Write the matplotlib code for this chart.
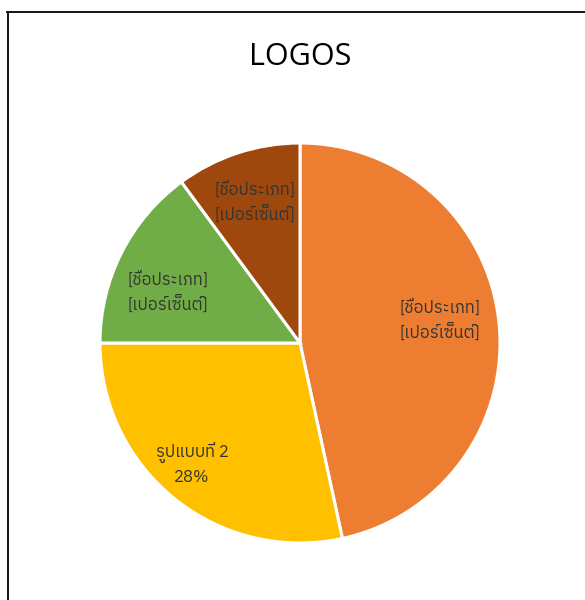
import matplotlib
matplotlib.use("Agg")
import matplotlib.pyplot as plt
from matplotlib import font_manager
from matplotlib.ft2font import FT2Font
from matplotlib.lines import Line2D
import numpy as np

# ---- data ----
categories = ["[ชื่อประเภท]", "รูปแบบที่ 2", "[ชื่อประเภท]", "[ชื่อประเภท]"]
values = [46.6, 28.4, 14.9, 10.1]
value_labels = ["[เปอร์เซ็นต์]", "28%", "[เปอร์เซ็นต์]", "[เปอร์เซ็นต์]"]
colors = ["#ED7D31", "#FFC000", "#70AD47", "#9E480E"]
title = "LOGOS"

# find a font that has Thai glyphs
thai_family = None
preferred = []
for fe in font_manager.fontManager.ttflist:
    try:
        cmap = FT2Font(fe.fname).get_charmap()
    except Exception:
        continue
    if ord("ช") in cmap and ord("ต") in cmap:
        preferred.append(fe.name)
for name in preferred:
    if "Sans" in name or "Tahoma" in name:
        thai_family = name
        break
if thai_family is None and preferred:
    thai_family = preferred[0]
fam = [thai_family, "DejaVu Sans"] if thai_family else ["DejaVu Sans"]

W, H = 585, 600
fig = plt.figure(figsize=(W / 100, H / 100), dpi=100)
fig.patch.set_facecolor("white")

cx, cy, R = 300, 343, 200
ax = fig.add_axes([(cx - R) / W, (H - cy - R) / H, 2 * R / W, 2 * R / H])
wedges, _ = ax.pie(values, colors=colors, startangle=90, counterclock=False,
                   radius=1.0, wedgeprops=dict(edgecolor="white", linewidth=2.2))
ax.set_xlim(-1, 1)
ax.set_ylim(-1, 1)
ax.set_aspect("equal")
ax.axis("off")

# label placement (style): radial distance and angular nudge per wedge
dists = [0.71, 0.81, 0.71, 0.74]
nudges = [3.4, -2.9, 5.7, -0.5]
for w, cat, vl, d, nd in zip(wedges, categories, value_labels, dists, nudges):
    ang = np.deg2rad((w.theta1 + w.theta2) / 2 + nd)
    x, y = d * np.cos(ang), d * np.sin(ang)
    ax.text(x, y, cat + "\n" + vl, ha="center", va="center", fontsize=12,
            color="#333333", family=fam, linespacing=1.45)

fig.text(300 / W, 1 - 57 / H, title, ha="center", va="center", fontsize=22,
         family=["Open Sans", "DejaVu Sans"], color="black")

# frame border (top and left visible)
fig.add_artist(Line2D([7.5 / W, 7.5 / W], [0, 1 - 11.5 / H], color="black",
                      linewidth=1.3, transform=fig.transFigure))
fig.add_artist(Line2D([7 / W, 1], [1 - 11.5 / H, 1 - 11.5 / H], color="black",
                      linewidth=1.3, transform=fig.transFigure))

fig.savefig("out.png", dpi=100)
